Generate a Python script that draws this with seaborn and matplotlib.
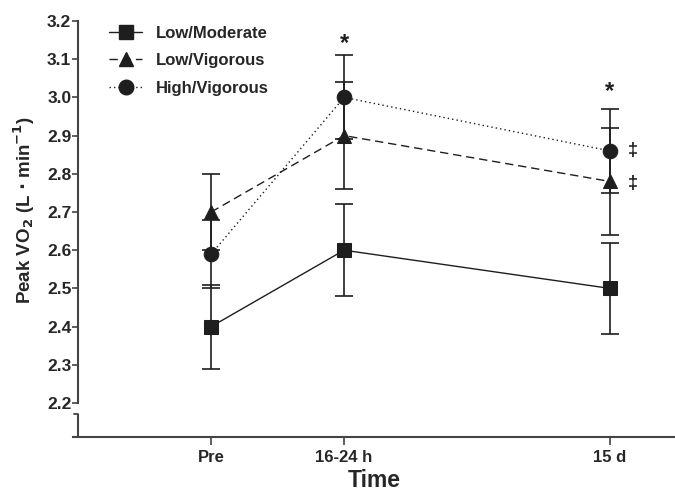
import numpy as np
import pandas as pd
import matplotlib
matplotlib.use("Agg")
import matplotlib.pyplot as plt
from matplotlib.lines import Line2D
import seaborn as sns

# ---- data ----
times = ["Pre", "16-24 h", "15 d"]
time_pos = [0, 1, 3]
groups = ["Low/Moderate", "Low/Vigorous", "High/Vigorous"]
low_mod = [2.40, 2.60, 2.50]
low_mod_err = [0.11, 0.12, 0.12]
low_vig = [2.70, 2.90, 2.78]
low_vig_err = [0.10, 0.14, 0.14]
high_vig = [2.59, 3.00, 2.86]
high_vig_err = [0.09, 0.11, 0.11]
y_ticks = [2.2, 2.3, 2.4, 2.5, 2.6, 2.7, 2.8, 2.9, 3.0, 3.1, 3.2]

means = {"Low/Moderate": low_mod, "Low/Vigorous": low_vig, "High/Vigorous": high_vig}
errs = {"Low/Moderate": low_mod_err, "Low/Vigorous": low_vig_err, "High/Vigorous": high_vig_err}

rows = []
for g in groups:
    for t, xp, v, e in zip(times, time_pos, means[g], errs[g]):
        rows.append({"group": g, "time": t, "x": xp, "value": v, "err": e})
df = pd.DataFrame(rows)

sns.set_theme(style="ticks")
plt.rcParams['font.family'] = ['Liberation Sans', 'DejaVu Sans']
plt.rcParams['font.weight'] = 'bold'
plt.rcParams['mathtext.default'] = 'bf'

ink = "#1e1e1e"
markers = {"Low/Moderate": "s", "Low/Vigorous": "^", "High/Vigorous": "o"}
dashes = {"Low/Moderate": "", "Low/Vigorous": (6, 3.5), "High/Vigorous": (1, 2.2)}

fig = plt.figure(figsize=(6.75, 4.92), dpi=100)
ax = fig.add_axes([73/675, 55/492, (675-73)/675, (437-21)/492])

# error bars
for g in groups:
    sub = df[df.group == g]
    ax.errorbar(sub["x"], sub["value"], yerr=sub["err"], fmt="none",
                ecolor=ink, elinewidth=1.2, capsize=6.5, capthick=1.2, zorder=2)

sns.lineplot(data=df, x="x", y="value", style="group", style_order=groups,
             markers=markers, dashes=dashes, color=ink, linewidth=1.0,
             markersize=10.5, markeredgecolor=ink, legend=False, ax=ax, zorder=3)

ax.set_xlim(-1.04, 3.49)
ax.set_ylim(2.111, 3.2)
ax.spines["left"].set_position(("data", -1))
ax.spines["left"].set_bounds(2.2, 3.2)
ax.spines["right"].set_visible(False)
ax.spines["top"].set_visible(False)
for s in ["left", "bottom"]:
    ax.spines[s].set_color("#444444")
    ax.spines[s].set_linewidth(1.5)

# lower broken-axis segment
ax.plot([-1, -1], [2.111, 2.171], color="#444444", lw=1.5, clip_on=False, solid_capstyle="butt")
ax.plot([-1.035, -1], [2.171, 2.171], color="#444444", lw=1.3, clip_on=False)

ax.set_xticks(time_pos)
ax.set_xticklabels(times, fontsize=12, fontweight="bold")
ax.set_yticks(y_ticks)
ax.set_yticklabels([f"{v:.1f}" for v in y_ticks], fontsize=12.5, fontweight="bold")
ax.tick_params(axis="y", length=4, width=1.2, color="#444444", pad=1)
ax.tick_params(axis="x", length=6, width=1.2, color="#444444", pad=3)

ax.set_xlabel("Time", fontsize=16.5, fontweight="bold", labelpad=3)
ax.set_ylabel(r"Peak VO$_\mathbf{2}$ (L $\mathbf{\cdot}$ min$^\mathbf{-1}$)",
              fontsize=13.5, fontweight="bold")
ax.yaxis.set_label_coords(-0.06, 0.546)

# significance markers
ax.text(1, 3.14, "*", ha="center", va="center", fontsize=17, fontweight="bold", color=ink)
ax.text(3, 3.015, "*", ha="center", va="center", fontsize=17, fontweight="bold", color=ink)
ax.text(3.17, 2.86, "‡", ha="center", va="center", fontsize=13, fontweight="bold", color=ink)
ax.text(3.17, 2.775, "‡", ha="center", va="center", fontsize=13, fontweight="bold", color=ink)

handles = []
for g in groups:
    h = Line2D([], [], color=ink, marker=markers[g], markersize=10.5, lw=1.0,
               linestyle="-" if not dashes[g] else "--")
    if dashes[g]:
        h.set_dashes(dashes[g])
    handles.append(h)
leg = ax.legend(handles, groups, loc="upper left", bbox_to_anchor=(0.035, 1.025),
                frameon=False, handlelength=2.0, labelspacing=0.75,
                handletextpad=0.8, prop={"weight": "bold", "size": 12})

fig.savefig("out.png", dpi=100)
